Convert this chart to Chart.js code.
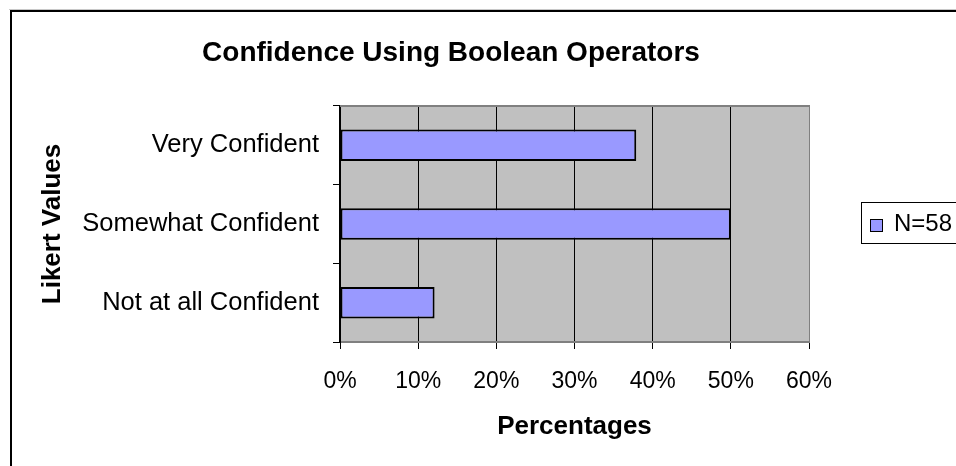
<!DOCTYPE html>
<html><head><meta charset="utf-8">
<script src="https://cdn.jsdelivr.net/npm/chart.js@4.4.1/dist/chart.umd.min.js"></script>
<style>html,body{margin:0;padding:0;background:#fff;overflow:hidden}</style>
</head><body>
<canvas id="c" width="956" height="466"></canvas>
<script>
const chartTitle = 'Confidence Using Boolean Operators';
const categories = ['Very Confident', 'Somewhat Confident', 'Not at all Confident'];
const percentages = [37.9, 50.0, 12.1];
const seriesLabel = 'N=58';
const xTickValues = [0, 10, 20, 30, 40, 50, 60];
const xTitle = 'Percentages';
const yTitle = 'Likert Values';

const FAMILY = '"Liberation Sans", Arial, Helvetica, sans-serif';
Chart.defaults.font.family = FAMILY;
Chart.defaults.color = '#000';

const decor = {
  id: 'decor',
  beforeDraw(chart) {
    const {ctx, chartArea: a} = chart;
    ctx.save();
    ctx.fillStyle = '#fff';
    ctx.fillRect(0, 0, chart.width, chart.height);
    ctx.fillStyle = '#c8c8c8';
    ctx.fillRect(9, 9, chart.width, 1);
    ctx.fillStyle = '#000';
    ctx.fillRect(10, 10, chart.width, 2);
    ctx.fillRect(10, 10, 2, chart.height);
    ctx.fillStyle = '#c0c0c0';
    ctx.fillRect(a.left, a.top, a.right - a.left, a.bottom - a.top);
    ctx.restore();
  },
  beforeDatasetsDraw(chart) {
    const {ctx, chartArea: a} = chart;
    ctx.save();
    ctx.strokeStyle = '#808080';
    ctx.lineWidth = 2;
    ctx.beginPath();
    ctx.moveTo(a.left, a.top);
    ctx.lineTo(a.right + 1, a.top);
    ctx.stroke();
    ctx.restore();
  },
  afterDraw(chart) {
    const {ctx} = chart;
    const ds = chart.data.datasets[0];
    ctx.save();
    ctx.fillStyle = '#fff';
    ctx.strokeStyle = '#000';
    ctx.lineWidth = 1;
    ctx.fillRect(861.5, 202.5, 120, 41);
    ctx.strokeRect(861.5, 202.5, 120, 41);
    ctx.fillStyle = ds.backgroundColor;
    ctx.fillRect(870.5, 219.5, 12, 12);
    ctx.strokeRect(870.5, 219.5, 12, 12);
    ctx.fillStyle = '#000';
    ctx.font = '24px ' + FAMILY;
    ctx.textBaseline = 'middle';
    ctx.textAlign = 'left';
    ctx.fillText(ds.label, 894, 224);
    ctx.restore();
  }
};

new Chart(document.getElementById('c'), {
  type: 'bar',
  data: {
    labels: categories,
    datasets: [{
      label: seriesLabel,
      data: percentages,
      backgroundColor: '#9999ff',
      borderColor: '#000',
      borderWidth: 2,
      borderSkipped: false,
      barPercentage: 0.4,
      categoryPercentage: 1.0
    }]
  },
  options: {
    indexAxis: 'y',
    responsive: false,
    devicePixelRatio: 1,
    animation: false,
    layout: {padding: {left: 0, right: 54, top: 0, bottom: 0}},
    plugins: {
      legend: {display: false},
      tooltip: {enabled: false},
      title: {
        display: true,
        text: chartTitle,
        color: '#000',
        font: {size: 28, weight: 'bold', lineHeight: 1.2},
        padding: {top: 36, bottom: 36.4}
      }
    },
    scales: {
      x: {
        type: 'linear',
        position: 'bottom',
        min: xTickValues[0],
        max: xTickValues[xTickValues.length - 1],
        afterBuildTicks(s) { s.ticks = xTickValues.map(v => ({value: v})); },
        ticks: {callback: v => v + '%', font: {size: 23}, color: '#000', padding: 19, maxRotation: 0},
        grid: {
          color: c => (c.index === xTickValues.length - 1 ? '#808080' : '#000'),
          lineWidth: 1,
          drawTicks: true,
          tickLength: 7,
          tickColor: '#000'
        },
        border: {color: '#808080', width: 2},
        title: {display: true, text: xTitle, color: '#000', font: {size: 26, weight: 'bold', lineHeight: 1.2}, padding: {top: 0, bottom: 23.4}},
        afterFit(s) { s.height = 124; }
      },
      y: {
        type: 'category',
        position: 'left',
        ticks: {font: {size: 25.5}, color: '#000', padding: 14},
        grid: {drawOnChartArea: false, drawTicks: true, tickLength: 7, color: '#000', offset: true},
        border: {color: '#000', width: 2},
        title: {display: true, text: yTitle, color: '#000', font: {size: 26, weight: 'bold', lineHeight: 1.2}, padding: {top: 37.4, bottom: 0}},
        afterFit(s) { s.width = 340; }
      },
      yRight: {
        type: 'category',
        position: 'right',
        labels: [''],
        ticks: {display: false},
        grid: {display: false},
        border: {display: false},
        afterFit(s) { s.width = 93; }
      }
    }
  },
  plugins: [decor]
});
</script>
</body></html>
